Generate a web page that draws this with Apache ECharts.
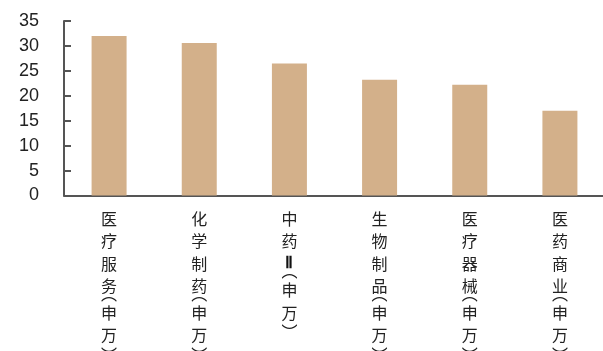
<!DOCTYPE html>
<html>
<head>
<meta charset="utf-8">
<script src="https://cdn.jsdelivr.net/npm/echarts@6/dist/echarts.min.js"></script>
<style>
html,body{margin:0;padding:0;background:#fff;}
#chart{width:603px;height:351px;}
</style>
</head>
<body>
<div id="chart"></div>
<script>
// Industry names (Shenwan classification) and their values
const categories = ['医疗服务(申万)', '化学制药(申万)', '中药Ⅱ(申万)', '生物制品(申万)', '医疗器械(申万)', '医药商业(申万)'];
const values = [32.0, 30.6, 26.5, 23.2, 22.2, 17.0];
const yTicks = [0, 5, 10, 15, 20, 25, 30, 35];

// Stack a label vertically, one character per line; brackets use vertical forms
function verticalLabel(name) {
  const lines = [];
  for (const ch of name) {
    if (ch === '(') lines.push('{po|︵}');
    else if (ch === ')') lines.push('{pc|︶}');
    else if (ch === 'Ⅱ') lines.push('{r|Ⅱ}');
    else lines.push('{c|' + ch + '}');
  }
  return lines.join('\n');
}

const cjk = 'Noto Sans CJK SC';
const chart = echarts.init(document.getElementById('chart'), null, {renderer: 'canvas'});
chart.setOption({
  animation: false,
  grid: {left: 64, right: -2, top: 21, bottom: 155.5, containLabel: false, outerBoundsMode: 'none'},
  xAxis: {
    type: 'category',
    data: categories,
    axisLine: {lineStyle: {color: '#555', width: 2}},
    axisTick: {show: false},
    axisLabel: {
      interval: 0,
      margin: 12,
      formatter: verticalLabel,
      rich: {
        c: {fontSize: 16, lineHeight: 22.5, color: '#222', fontFamily: cjk, align: 'center'},
        r: {fontSize: 16, lineHeight: 22.5, color: '#111', fontWeight: 'bold', fontFamily: 'Liberation Serif', align: 'center'},
        po: {fontSize: 16, lineHeight: 4, color: '#222', fontFamily: cjk, align: 'center', verticalAlign: 'bottom'},
        pc: {fontSize: 16, lineHeight: 4, color: '#222', fontFamily: cjk, align: 'center', verticalAlign: 'top'}
      }
    }
  },
  yAxis: {
    type: 'value',
    min: yTicks[0],
    max: yTicks[yTicks.length - 1],
    interval: 5,
    splitLine: {show: false},
    axisLine: {show: true, lineStyle: {color: '#555', width: 2}},
    axisTick: {show: true, inside: true, length: 7, lineStyle: {color: '#555', width: 2}},
    axisLabel: {margin: 25, fontSize: 18, color: '#222', fontFamily: 'Liberation Sans'}
  },
  series: [{
    type: 'bar',
    data: values,
    barWidth: 35,
    itemStyle: {color: '#D3B08A'}
  }]
});
</script>
</body>
</html>
